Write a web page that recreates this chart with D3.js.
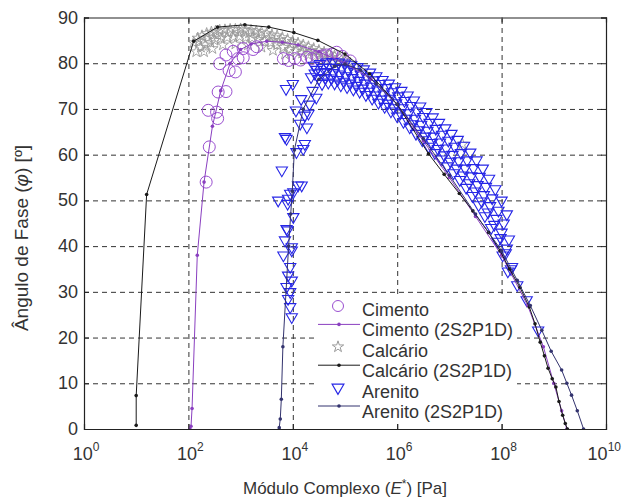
<!DOCTYPE html>
<meta charset="utf-8">
<head>
<title>Espaco de Black</title>
<style>
body { margin: 0; background: #fff; }
text { font-family: "Liberation Sans", Arial, sans-serif; }
</style>
</head>
<body>
<div id="chart"></div>
<script src="https://d3js.org/d3.v7.min.js"></script>
<script>

// values: [log10 E* (Pa), phase angle (deg)]
var cimentoPts = [[2.34,54],[2.40,61.7],[2.38,69.7],[2.56,67.9],[2.54,69.3],[2.57,73.7],[2.72,73.8],
  [2.60,79.9],[2.78,78.4],[2.90,78.1],[2.72,81.8],[2.86,82.6],[2.95,81],[3.05,81.2],[3.05,83.2],
  [3.24,83],[3.31,83.6],[3.82,81],[3.92,80.6],[4.04,81],[4.15,80.7],[4.27,81.3],[4.36,81],
  [4.46,81.4],[4.56,81.6],[4.65,81.8],[4.75,82],[4.84,82.4],[4.95,81.5],[5.1,80.5]];

var cimentoFit = [[2.03,0],[2.05,0.6],[2.07,4.5],[2.17,38],[2.30,54],[2.46,66.2],[2.62,74],[2.80,80],
  [3.0,83],[3.2,84.2],[3.5,84.8],[3.8,84.6],[4.1,84],[4.5,82.5],[5.0,80],[5.5,76.5],[6.0,71],
  [6.5,63],[7.0,55],[7.5,46.5],[8.0,38],[8.5,27],[8.8,18],[9.0,10],[9.15,4],[9.25,0]];

var calcarioPts = [[2.10,84.5],[2.18,85.5],[2.26,86],[2.35,86.5],[2.44,86.8],[2.52,87],[2.60,87.2],
  [2.70,87.3],[2.80,87.4],[2.90,87.4],[3.00,87.5],[3.10,87.3],[3.20,87.2],[3.30,87],[3.40,86.8],
  [3.50,86.5],[3.60,86.2],[3.70,86],[3.80,85.6],[3.90,85.2],[4.00,84.8],[4.10,84.4],[4.20,84],
  [4.30,83.6],[4.40,83.2],[4.50,82.8],[4.60,82.4],[4.70,82],[4.80,81.6],[4.90,81.2],[5.00,80.6],
  [5.10,80],[5.20,79.4],
  [2.20,84.8],[2.38,85.6],[2.56,86.2],[2.76,86.6],[2.96,86.8],[3.16,86.6],[3.36,86.2],[3.56,85.6],
  [3.76,85],[3.96,84.2],[4.16,83.4],[4.36,82.6],[4.56,82],[4.76,81.2],[4.96,80.2],
  [2.15,82.5],[2.24,83.5],[2.32,84],[2.42,84.5],[2.50,85],[2.62,85.4],[2.74,85.6],[2.86,85.7],
  [2.98,85.8],[3.10,85.6],[3.22,85.5],[3.34,85.2],[3.46,84.8],[3.58,84.5],[3.70,84],[3.82,83.5],
  [3.94,83],[4.06,82.6],[4.18,82.2],[4.30,81.8],[4.42,81.5],[4.54,81],[4.66,80.6],[4.78,80.2],
  [2.30,82.5],[2.46,83.2],[2.66,84],[2.90,84.2],[3.14,84],[3.40,83.5],[3.62,82.8],[3.85,82],
  [7.25,62.3]];

var calcarioFit = [[1.0,0.8],[1.0,7.3],[1.2,51.3],[2.1,84.8],[2.56,87.9],[3.08,88.4],[3.54,87.9],
  [4.02,86.7],[4.48,85],[5.0,82],[5.47,77.7],[6.0,71],[6.6,60.2],[6.9,55.7],[7.19,51.5],[7.45,47.7],
  [7.75,43],[7.97,39],[8.15,35],[8.35,31],[8.53,26.7],[8.64,23],[8.74,19],[8.82,16],[8.89,13.3],
  [8.97,11],[9.04,9.2],[9.1,6],[9.17,3],[9.22,1.2],[9.26,0]];

var arenitoPts = [
  // steep branch near 10^4
  [3.87,74.4],[4.0,75.5],[4.16,72.2],[4.06,69.7],[4.23,68.6],[4.14,66.8],[4.27,66],[3.85,63.9],
  [4.07,60.6],[4.2,61.3],[3.79,56.6],[4.1,53.3],[3.95,51.5],[3.72,50],[3.9,49.3],[4.01,46.4],
  [3.9,43.5],[3.85,41.3],[4.3,69],[3.88,63.5],[4.23,62.4],[4.17,53.3],[4.01,51.8],[3.91,50.4],
  [3.88,43.8],[3.98,39.8],[3.98,39.1],[3.82,38],[3.95,35.5],[3.91,33.6],[3.98,32.5],[3.88,31.1],
  [3.95,30],[3.91,28.5],[3.95,26.7],[3.98,24.5],
  [4.35,77],[4.38,74],[4.45,72.5],[4.32,71],
  // main band, row 1 (top)
  [4.40,79.5],[4.52,79.9],[4.64,80.2],[4.76,80.3],[4.88,80.2],[5.00,80],[5.12,79.6],[5.24,79.2],
  [5.36,78.7],[5.48,78],[5.60,77.2],[5.72,76.4],[5.84,75.6],[5.96,74.8],[6.08,74],[6.20,73],
  [6.32,71.9],[6.44,70.6],[6.56,69.4],[6.68,68.2],[6.80,67],[6.92,65.8],[7.04,64.6],[7.16,63.3],
  [7.28,62],[7.40,60.5],[7.52,58.8],[7.64,57],[7.76,54.8],[7.88,52.5],[8.00,50],[8.10,47],
  // row 2
  [4.46,78.6],[4.58,79],[4.70,79.1],[4.82,79],[4.94,78.8],[5.06,78.5],[5.18,78.1],[5.30,77.6],
  [5.42,77],[5.54,76.3],[5.66,75.5],[5.78,74.6],[5.90,73.7],[6.02,72.8],[6.14,71.8],[6.26,70.7],
  [6.38,69.5],[6.50,68.3],[6.62,67],[6.74,65.7],[6.86,64.4],[6.98,63.1],[7.10,61.8],[7.22,60.4],
  [7.34,58.8],[7.46,57.1],[7.58,55.2],[7.70,53],[7.82,50.5],[7.94,47.8],[8.04,45],[8.14,41.5],
  // row 3
  [4.42,77.8],[4.54,78],[4.66,78.1],[4.78,77.9],[4.90,77.6],[5.02,77.2],[5.14,76.8],[5.26,76.2],
  [5.38,75.6],[5.50,74.9],[5.62,74.1],[5.74,73.2],[5.86,72.3],[5.98,71.3],[6.10,70.2],[6.22,69.1],
  [6.34,67.9],[6.46,66.6],[6.58,65.3],[6.70,64],[6.82,62.7],[6.94,61.4],[7.06,60],[7.18,58.6],
  [7.30,57],[7.42,55.3],[7.54,53.4],[7.66,51.2],[7.78,48.8],[7.90,46],[8.00,43],[8.10,39.5],[8.20,35.5],
  // row 4
  [4.50,76.6],[4.62,76.8],[4.74,76.7],[4.86,76.4],[4.98,76],[5.10,75.6],[5.22,75.1],[5.34,74.5],
  [5.46,73.8],[5.58,73],[5.70,72.1],[5.82,71.2],[5.94,70.2],[6.06,69.1],[6.18,67.9],[6.30,66.7],
  [6.42,65.4],[6.54,64],[6.66,62.6],[6.78,61.3],[6.90,59.9],[7.02,58.5],[7.14,57],[7.26,55.5],
  [7.38,53.8],[7.50,52],[7.62,49.8],[7.74,47.4],[7.86,44.7],[7.98,41.8],[8.08,38.5],[8.18,35],
  // row 5 (bottom)
  [4.56,75.5],[4.68,75.8],[4.80,75.6],[4.92,75.2],[5.04,74.8],[5.16,74.3],[5.28,73.8],[5.40,73.1],
  [5.52,72.3],[5.64,71.4],[5.76,70.5],[5.88,69.5],[6.00,68.4],[6.12,67.2],[6.24,66],[6.36,64.6],
  [6.48,63.2],[6.60,61.8],[6.72,60.4],[6.84,59],[6.96,57.5],[7.08,56],[7.20,54.5],[7.32,52.8],
  [7.44,51],[7.56,49],[7.68,46.6],[7.80,44],[7.92,41],[8.02,38],[8.12,34.5],[8.30,31.5],
  [8.48,28.2],[8.70,21.6]];

var arenitoFit = [[3.74,0.3],[3.76,2.2],[3.78,6.5],[3.81,18],[3.92,40],[3.96,47],[3.99,52],[4.03,61],
  [4.2,70],[4.5,76.5],[4.8,79.3],[5.0,79.8],[5.3,78.5],[5.6,75.5],[6.0,71],[6.5,63.5],[7.0,55.5],
  [7.5,47],[8.0,39],[8.3,32.5],[8.55,27],[8.77,21.6],[8.95,17],[9.15,12.9],[9.25,10],[9.34,7.4],
  [9.45,4],[9.57,0]];

var xTicks = [1e0, 1e2, 1e4, 1e6, 1e8, 1e10];
var xTickExp = ["0", "2", "4", "6", "8", "10"];
var yTicks = [0, 10, 20, 30, 40, 50, 60, 70, 80, 90];

var legendNames = ["Cimento", "Cimento (2S2P1D)", "Calcário", "Calcário (2S2P1D)", "Arenito", "Arenito (2S2P1D)"];

var purple = "#9a4fd0", purpleLine = "#8a3fc0", gray = "#9a9a9a", blue = "#2626e6", navy = "#33336e";

var W = 623, H = 501;
var margin = {top: 17.5, right: 17, bottom: 72, left: 84},
    width = W - margin.left - margin.right,
    height = H - margin.top - margin.bottom;

var svg = d3.select("#chart").append("svg")
    .attr("width", W).attr("height", H)
    .style("display", "block");

var g = svg.append("g")
    .attr("transform", "translate(" + margin.left + "," + margin.top + ")");

var x = d3.scaleLog().domain([1, 1e10]).range([0, width]);
var y = d3.scaleLinear().domain([0, 90]).range([height, 0]);

function px(d) { return x(Math.pow(10, d[0])); }
function py(d) { return y(d[1]); }

g.append("defs").append("clipPath").attr("id", "clip")
  .append("rect").attr("width", width).attr("height", height);

// grid
g.append("g").attr("class", "grid")
  .attr("transform", "translate(0," + height + ")")
  .call(d3.axisBottom(x).tickValues(xTicks.slice(1, -1)).tickSize(-height).tickFormat(""));
g.append("g").attr("class", "grid")
  .call(d3.axisLeft(y).tickValues(yTicks.slice(1, -1)).tickSize(-width).tickFormat(""));
g.selectAll(".grid .domain").remove();
g.selectAll(".grid line")
  .attr("stroke", "#333").attr("stroke-width", 1).attr("stroke-dasharray", "5,4");

var plot = g.append("g").attr("clip-path", "url(#clip)");

// markers
plot.selectAll("path.calc").data(calcarioPts).enter().append("path")
  .attr("class", "calc")
  .attr("d", d3.symbol().type(d3.symbolStar).size(40))
  .attr("transform", function(d) { return "translate(" + px(d) + "," + py(d) + ")"; })
  .attr("fill", "none").attr("stroke", gray).attr("stroke-width", 0.9);

plot.selectAll("circle.cim").data(cimentoPts).enter().append("circle")
  .attr("class", "cim")
  .attr("cx", px).attr("cy", py).attr("r", 6)
  .attr("fill", "none").attr("stroke", purple).attr("stroke-width", 1);

plot.selectAll("path.aren").data(arenitoPts).enter().append("path")
  .attr("class", "aren")
  .attr("d", d3.symbol().type(d3.symbolTriangle).size(55))
  .attr("transform", function(d) { return "translate(" + px(d) + "," + py(d) + ") rotate(180)"; })
  .attr("fill", "none").attr("stroke", blue).attr("stroke-width", 1.1);

// fitted 2S2P1D curves
var line = d3.line().x(px).y(py);
var fits = [
  {data: cimentoFit, color: purpleLine},
  {data: calcarioFit, color: "#1a1a1a"},
  {data: arenitoFit, color: navy}
];
fits.forEach(function(f) {
  plot.append("path").datum(f.data)
    .attr("d", line).attr("fill", "none")
    .attr("stroke", f.color).attr("stroke-width", 1);
  plot.selectAll(null).data(f.data).enter().append("circle")
    .attr("cx", px).attr("cy", py).attr("r", 1.8)
    .attr("fill", f.color);
});

// legend
var lg = g.append("g").attr("transform", "translate(" + (315 - margin.left) + "," + (294 - margin.top) + ")");
lg.append("rect").attr("width", 202).attr("height", 128).attr("fill", "#fff");
var rowY = d3.scaleLinear().domain([0, 5]).range([12, 114]);
legendNames.forEach(function(name, i) {
  var cy = rowY(i);
  var item = lg.append("g").attr("transform", "translate(0," + cy + ")");
  if (i === 0) {
    item.append("circle").attr("cx", 23).attr("cy", 0).attr("r", 5.5)
      .attr("fill", "none").attr("stroke", purple);
  } else if (i === 2) {
    item.append("path").attr("d", d3.symbol().type(d3.symbolStar).size(40))
      .attr("transform", "translate(23,0)").attr("fill", "none").attr("stroke", gray);
  } else if (i === 4) {
    item.append("path").attr("d", d3.symbol().type(d3.symbolTriangle).size(60))
      .attr("transform", "translate(23,0) rotate(180)").attr("fill", "none").attr("stroke", blue).attr("stroke-width", 1.2);
  } else {
    var c = i === 1 ? purpleLine : (i === 3 ? "#1a1a1a" : navy);
    item.append("line").attr("x1", 3).attr("x2", 45).attr("y1", -2).attr("y2", -2)
      .attr("stroke", c).attr("stroke-width", 1);
    item.append("circle").attr("cx", 24).attr("cy", -2).attr("r", 1.8).attr("fill", c);
  }
  item.append("text").attr("x", 47).attr("y", 4)
    .attr("dominant-baseline", "central")
    .style("font-size", "18px").attr("fill", "#333")
    .text(name);
});

// axes with inward ticks
var axB = g.append("g").attr("transform", "translate(0," + height + ")")
  .call(d3.axisBottom(x).tickValues(xTicks).tickSize(-5).tickFormat(""));
var axT = g.append("g")
  .call(d3.axisTop(x).tickValues(xTicks).tickSize(-5).tickFormat(""));
var axL = g.append("g")
  .call(d3.axisLeft(y).tickValues(yTicks).tickSize(-5).tickFormat(""));
var axR = g.append("g").attr("transform", "translate(" + width + ",0)")
  .call(d3.axisRight(y).tickValues(yTicks).tickSize(-5).tickFormat(""));
[axB, axT, axL, axR].forEach(function(a) {
  a.select(".domain").attr("stroke", "#222").attr("stroke-width", 1.2);
  a.selectAll(".tick line").attr("stroke", "#222");
});

// tick labels
xTicks.forEach(function(v, i) {
  var last = i === xTicks.length - 1;
  var t = g.append("text")
    .attr("x", last ? W - margin.left - 2 : x(v) + 2).attr("y", height + 31)
    .attr("text-anchor", last ? "end" : "middle")
    .style("font-size", "18px").attr("fill", "#333");
  t.append("tspan").text("10");
  t.append("tspan").attr("dy", -9).style("font-size", "12px").text(xTickExp[i]);
});
yTicks.forEach(function(v) {
  g.append("text")
    .attr("x", -6).attr("y", y(v))
    .attr("text-anchor", "end").attr("dominant-baseline", "central")
    .style("font-size", "18px").attr("fill", "#333")
    .text(v);
});

// axis titles
var xt = svg.append("text")
  .attr("x", margin.left + width / 2).attr("y", 494)
  .attr("text-anchor", "middle")
  .style("font-size", "17px").attr("fill", "#333");
xt.append("tspan").text("Módulo Complexo (");
xt.append("tspan").style("font-style", "italic").text("E");
xt.append("tspan").attr("dy", -6).style("font-size", "12px").text("*");
xt.append("tspan").attr("dy", 6).text(") [Pa]");

var yt = svg.append("text")
  .attr("transform", "translate(28,238) rotate(-90)")
  .attr("text-anchor", "middle")
  .style("font-size", "19px").attr("fill", "#333");
yt.append("tspan").text("Ângulo de Fase (");
yt.append("tspan").style("font-style", "italic").text("φ");
yt.append("tspan").text(") [º]");

</script>
</body>
